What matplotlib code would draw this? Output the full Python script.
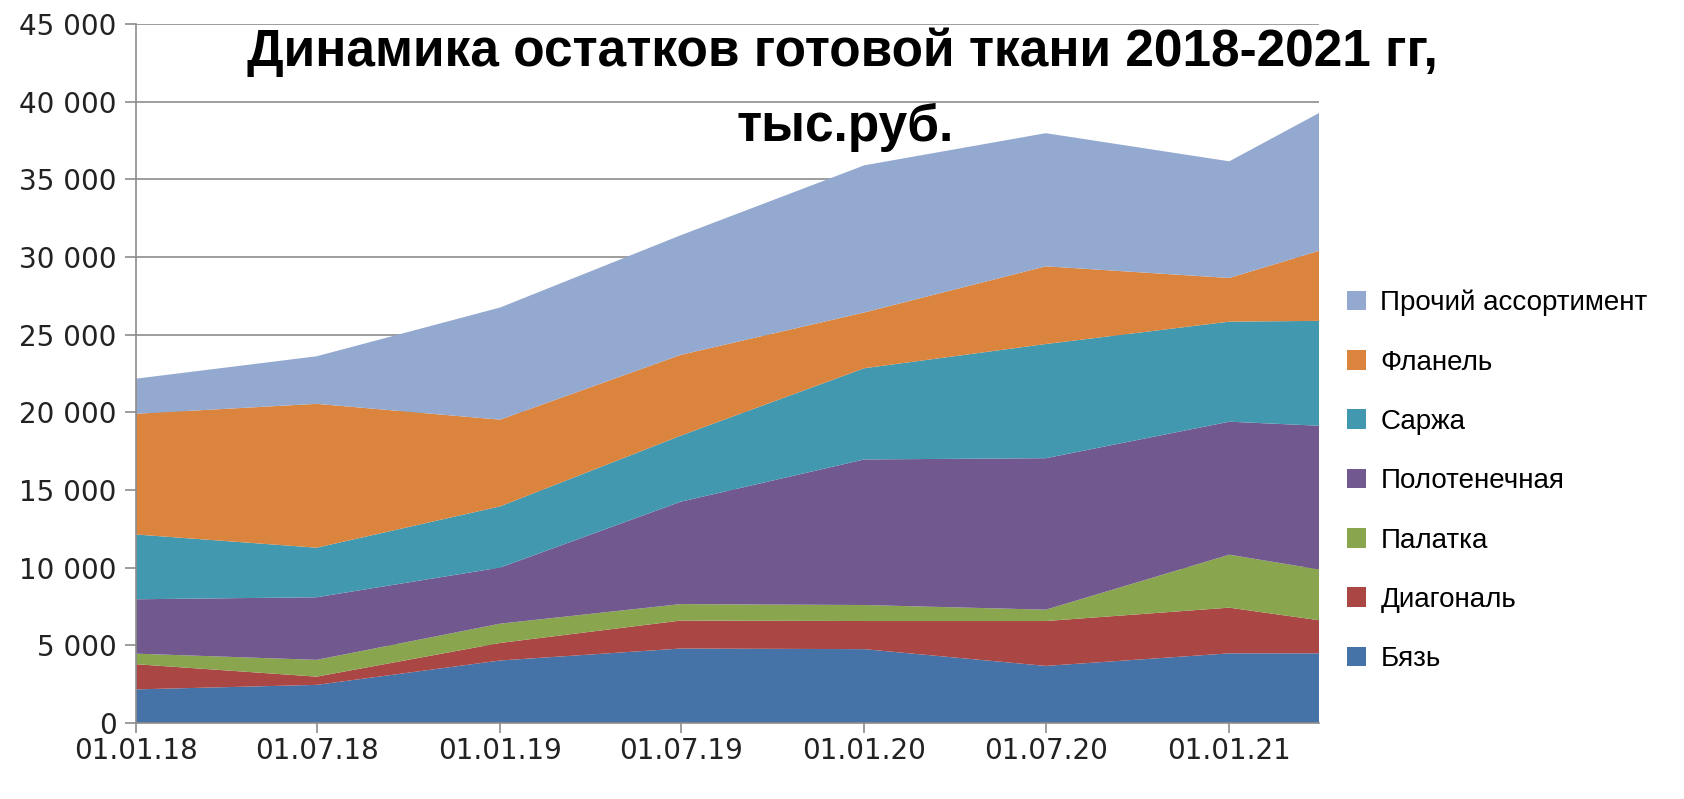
import matplotlib
matplotlib.use("Agg")
import matplotlib.pyplot as plt
import matplotlib.dates as mdates
from matplotlib.patches import Patch
from matplotlib.ticker import FuncFormatter
from datetime import date

dates = [date(2018, 1, 1), date(2018, 7, 1), date(2019, 1, 1), date(2019, 7, 1),
         date(2020, 1, 1), date(2020, 7, 1), date(2021, 1, 1), date(2021, 4, 1)]
tick_labels = ['01.01.18', '01.07.18', '01.01.19', '01.07.19', '01.01.20', '01.07.20', '01.01.21']

names = ['Бязь', 'Диагональ', 'Палатка', 'Полотенечная', 'Саржа', 'Фланель', 'Прочий ассортимент']
byaz = [2170, 2460, 4030, 4800, 4760, 3680, 4490, 4490]
diagonal = [1620, 530, 1130, 1800, 1810, 2890, 2940, 2130]
palatka = [680, 1080, 1240, 1060, 1030, 730, 3410, 3270]
polotenechnaya = [3500, 4030, 3610, 6590, 9370, 9750, 8560, 9250]
sarzha = [4170, 3190, 3940, 4250, 5870, 7350, 6440, 6750]
flanel = [7770, 9260, 5580, 5200, 3590, 5000, 2810, 4510]
prochiy = [2260, 3060, 7220, 7700, 9470, 8570, 7510, 8870]

colors = ['#4572A7', '#AA4643', '#89A54E', '#71588F', '#4198AF', '#DB843D', '#93A9CF']

x = mdates.date2num(dates)

fig = plt.figure(figsize=(16.84, 7.99), dpi=100)
ax = fig.add_axes([0.0808, 0.095, 0.7025, 0.875])

ax.stackplot(x, byaz, diagonal, palatka, polotenechnaya, sarzha, flanel, prochiy,
             colors=colors, zorder=2)

ax.set_xlim(x[0], x[-1])
ax.set_ylim(0, 45000)
ax.set_yticks(range(0, 45001, 5000))
ax.yaxis.set_major_formatter(FuncFormatter(lambda v, p: f'{int(v):,}'.replace(',', ' ')))
ax.set_xticks(x[:7])
ax.set_xticklabels(tick_labels)
ax.grid(axis='y', color='#8c8c8c', linewidth=1.2, zorder=0)
ax.set_axisbelow(True)
for s in ['top', 'right']:
    ax.spines[s].set_visible(False)
for s in ['left', 'bottom']:
    ax.spines[s].set_color('#8c8c8c')
    ax.spines[s].set_linewidth(1.2)
    ax.spines[s].set_zorder(3)
ax.tick_params(axis='y', length=8, color='#8c8c8c', width=1.2, labelsize=20, pad=6, labelcolor='#222222')
ax.tick_params(axis='x', length=7, color='#8c8c8c', width=1.2, labelsize=20, pad=3, labelcolor='#222222')

fig.text(0.5, 0.935, 'Динамика остатков готовой ткани 2018-2021 гг,', ha='center', va='center',
         fontsize=37, fontweight='bold', family='Liberation Sans')
fig.text(0.502, 0.841, 'тыс.руб.', ha='center', va='center',
         fontsize=37, fontweight='bold', family='Liberation Sans')

handles = [Patch(facecolor=c, label=n) for c, n in zip(colors, names)][::-1]
fig.legend(handles=handles, loc='center left', bbox_to_anchor=(0.785, 0.398), frameon=False,
           handlelength=0.7, handleheight=0.7, handletextpad=0.5,
           labelspacing=1.2, prop={'family': 'Liberation Sans', 'size': 20})

fig.savefig('out.png', dpi=100)
